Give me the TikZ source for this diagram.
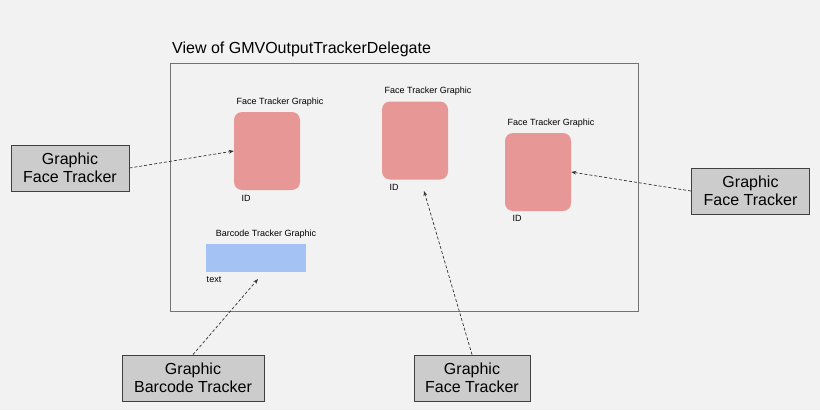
\documentclass[tikz,border=0pt]{standalone}
\usepackage{fontspec}
\setmainfont{Liberation Sans}
\usetikzlibrary{arrows.meta}
\definecolor{bg}{HTML}{F2F2F2}
\definecolor{redg}{HTML}{E89797}
\definecolor{blueg}{HTML}{A4C2F4}
\definecolor{grayb}{HTML}{CCCCCC}
\begin{document}
\begin{tikzpicture}[x=1pt,y=-1pt,
  gbox/.style={draw=black!75,fill=grayb,line width=0.8pt,minimum width=118pt,minimum height=46pt,align=center,font=\fontsize{16}{18}\selectfont,inner sep=0pt},
  face/.style={fill=redg,rounded corners=8pt,minimum width=66pt,minimum height=78pt,inner sep=0pt},
  small/.style={font=\fontsize{9}{10}\selectfont,inner sep=0pt},
  arr/.style={densely dashed,-{Stealth[length=5pt]},line width=0.7pt,black!80}]
\fill[bg] (0,0) rectangle (820,410);
\useasboundingbox (0,0) rectangle (820,410);
\node[draw=black!55,line width=0.8pt,minimum width=468pt,minimum height=248pt,inner sep=0pt] (frame) at (404,187) {};
\node[anchor=base west,inner sep=0pt,font=\fontsize{16}{18}\selectfont] (title) at (172,53) {View of GMVOutputTrackerDelegate};
\node[face] (f1) at (267,151) {};
\node[face] (f2) at (415,140.5) {};
\node[face] (f3) at (538,172) {};
\node[small] (l1) at (280,102) {Face Tracker Graphic};
\node[small] (l2) at (428,91) {Face Tracker Graphic};
\node[small] (l3) at (551,123) {Face Tracker Graphic};
\node[small] (i1) at (246,198) {ID};
\node[small] (i2) at (394,187) {ID};
\node[small] (i3) at (517,218) {ID};
\node[fill=blueg,minimum width=100pt,minimum height=28pt,inner sep=0pt] (bc) at (256,258) {};
\node[small] (bl) at (266,234) {Barcode Tracker Graphic};
\node[small] (bt) at (214,280) {text};
\node[gbox] (g1) at (70,168) {Graphic\\Face Tracker};
\node[gbox] (g2) at (750.5,191) {Graphic\\Face Tracker};
\node[gbox,minimum width=142pt] (g3) at (193,378) {Graphic\\Barcode Tracker};
\node[gbox,minimum width=116pt] (g4) at (472,378) {Graphic\\Face Tracker};
\coordinate (t3) at (258,279);
\coordinate (t4) at (424,191);
\draw[arr] (g1.east) -- (f1.west);
\draw[arr] (g2.west) -- (f3.east);
\draw[arr] (g3.north) -- (t3);
\draw[arr] (g4.north) -- (t4);
\end{tikzpicture}
\end{document}
